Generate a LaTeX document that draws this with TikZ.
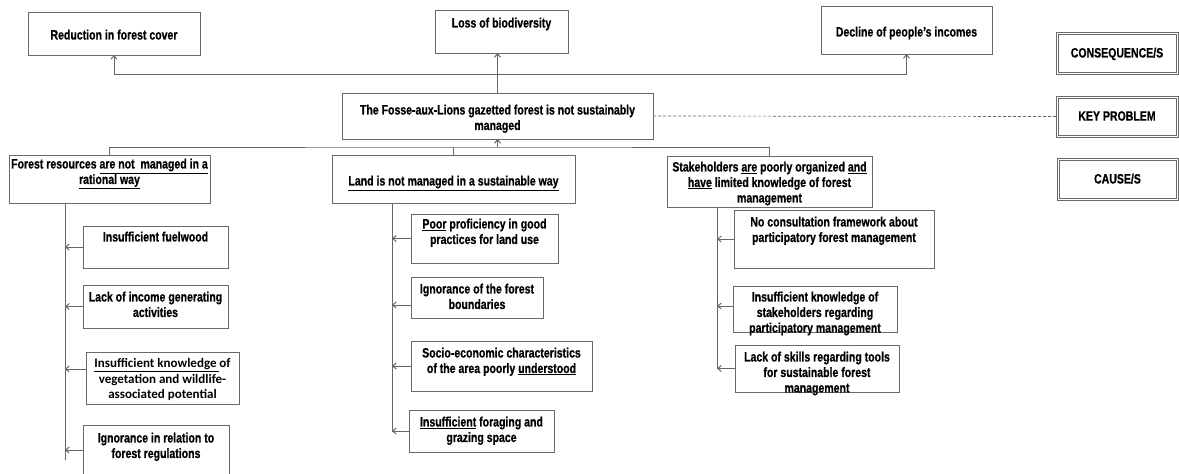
\documentclass[tikz,border=0pt]{standalone}
\usepackage{fontspec}
\setmainfont{Liberation Sans}[FakeStretch=0.78,BoldFeatures={FakeBold=0.7}]
\newfontfamily\calib{Carlito}
\usetikzlibrary{arrows.meta}
\definecolor{bordc}{HTML}{6A6A6A}
\definecolor{linec}{HTML}{666666}
\tikzset{
  x=1pt,y=-1pt,
  box/.style={draw=bordc,line width=0.9pt,fill=white,rectangle,inner sep=0pt,outer sep=0pt},
  lbox/.style={draw=bordc,line width=1pt,double=white,double distance=1pt,fill=white,rectangle,inner sep=0pt,outer sep=0pt},
  txt/.style={inner sep=0pt,anchor=north,align=center,font=\fontsize{13.5}{15.5}\selectfont\bfseries},
  ctxt/.style={inner sep=0pt,anchor=north,align=center,font=\calib\fontsize{13}{15.5}\selectfont\bfseries},
  ln/.style={draw=linec,line width=0.9pt},
  arr/.style={draw=linec,line width=0.9pt,-{Straight Barb[length=3.5pt,width=6pt,line width=1pt]}},
  dln/.style={draw=linec,line width=0.7pt,dash pattern=on 3pt off 2pt},
}
\newcommand\bxx[6]{\node[#6,minimum width={#4-#2},minimum height={#5-#3}] (#1) at ({(#2+#4)/2},{(#3+#5)/2}) {};}
\begin{document}
\begin{tikzpicture}
\useasboundingbox (0,0) rectangle (1179,474);
% consequences
\bxx{rfc}{28}{12}{200}{55}{box}
\bxx{lob}{435}{10}{568}{53}{box}
\bxx{dpi}{821}{6}{992}{54}{box}
\bxx{key}{342}{93}{653}{139}{box}
\node[txt] (rfct) at (114,29.5) {Reduction in forest cover};
\node[txt] (lobt) at (501.5,17.5) {Loss of biodiversity};
\node[txt] (dpit) at (906.5,26.5) {Decline of people’s incomes};
\node[txt] (keyt) at (497.5,104.5) {The Fosse-aux-Lions gazetted forest is not sustainably\\managed};
% legend boxes
\bxx{cons}{1057}{33}{1177}{73}{lbox}
\bxx{keyp}{1057}{97}{1177}{136}{lbox}
\bxx{cause}{1058}{159}{1177}{199}{lbox}
\node[txt] (const) at (1117,47.5) {CONSEQUENCE/S};
\node[txt] (keypt) at (1117,111) {KEY PROBLEM};
\node[txt] (causet) at (1117.5,173.5) {CAUSE/S};
% causes
\bxx{fr}{9}{155}{210}{203}{box}
\bxx{land}{332}{155}{575}{203}{box}
\bxx{stk}{667}{156}{872}{207}{box}
\node[txt] (frt) at (109.5,158.5) {Forest resources \underline{are not\ \ managed in a}\\\underline{rational way}};
\node[txt] (landt) at (453.5,175.5) {\underline{Land is not managed in a sustainable way}};
\node[txt] (stkt) at (769.5,161.5) {Stakeholders \underline{are} poorly organized \underline{and}\\\underline{have} limited knowledge of forest\\management};
% forest children
\bxx{f1}{83}{226}{228}{268}{box}
\bxx{f2}{83}{285}{228}{328}{box}
\bxx{f3}{86}{352}{239}{404}{box}
\bxx{f4}{83}{425}{229}{482}{box}
\node[txt] (f1t) at (155.5,231.5) {Insufficient fuelwood};
\node[txt] (f2t) at (155.5,291.5) {Lack of income generating\\activities};
\node[ctxt] (f3t) at (162.5,358.5) {\underline{Insufficient knowledge }of\\vegetation and wildlife-\\associated potential};
\node[txt] (f4t) at (156,432.5) {Ignorance in relation to\\forest regulations};
% land children
\bxx{l1}{411}{214}{558}{263}{box}
\bxx{l2}{411}{277}{543}{318}{box}
\bxx{l3}{411}{341}{592}{391}{box}
\bxx{l4}{409}{410}{554}{452}{box}
\node[txt] (l1t) at (484.5,218.5) {\underline{Poor} proficiency in good\\practices for land use};
\node[txt] (l2t) at (477,283.5) {Ignorance of the forest\\boundaries};
\node[txt] (l3t) at (501.5,347.5) {Socio-economic characteristics\\of the area poorly \underline{understood}};
\node[txt] (l4t) at (481.5,416.5) {\underline{Insufficient} foraging and\\grazing space};
% stakeholder children
\bxx{s1}{734}{210}{934}{268}{box}
\bxx{s2}{733}{286}{897}{332}{box}
\bxx{s3}{735}{345}{899}{392}{box}
\node[txt] (s1t) at (834,216.5) {No consultation framework about\\participatory forest management};
\node[txt] (s2t) at (815,291.5) {Insufficient knowledge of\\stakeholders regarding\\participatory management};
\node[txt] (s3t) at (817,351.5) {Lack of skills regarding tools\\for sustainable forest\\management};
% consequence connectors
\coordinate (cbar) at (497.5,74);
\draw[ln,line width=1.4pt] (key.north) -- (cbar);
\draw[arr,line width=1.1pt] (cbar) -- (cbar |- lob.south);
\draw[arr] (cbar) -| (rfc.south);
\draw[arr] (cbar) -| (dpi.south);
\draw[dln] (key.east) -- (keyp.west);
% cause connectors
\coordinate (cb) at (497.5,147);
\draw[arr] (cb) -- (key.south);
\draw[ln] (fr.north) |- (cb) -| (stk.north);
\draw[ln] (land.north) -- (land.north |- cb);
% forest branch
\coordinate (fvt) at (65,203);
\coordinate (fvb) at (65,460);
\draw[ln] (fvt) -- (fvb);
\draw[arr] (f1.west) -- (f1.west -| fvt);
\draw[arr] (f2.west) -- (f2.west -| fvt);
\draw[arr] ([yshift=9pt]f3.west) -- ([yshift=9pt]f3.west -| fvt);
\draw[arr] ([yshift=3.5pt]f4.west) -- ([yshift=3.5pt]f4.west -| fvt);
% land branch
\coordinate (lvt) at (392,203);
\coordinate (lvb) at (392,432);
\draw[ln] (lvt) -- (lvb);
\draw[arr] (l1.west) -- (l1.west -| lvt);
\draw[arr] ([yshift=-7.5pt]l2.west) -- ([yshift=-7.5pt]l2.west -| lvt);
\draw[arr] (l3.west) -- (l3.west -| lvt);
\draw[arr] (l4.west) -- (l4.west -| lvt);
% stakeholder branch
\coordinate (svt) at (717,207);
\coordinate (svb) at (717,369);
\draw[ln] (svt) -- (svb);
\draw[arr] (s1.west) -- (s1.west -| svt);
\draw[arr] ([yshift=3pt]s2.west) -- ([yshift=3pt]s2.west -| svt);
\draw[arr] (s3.west) -- (s3.west -| svt);
\end{tikzpicture}
\end{document}
